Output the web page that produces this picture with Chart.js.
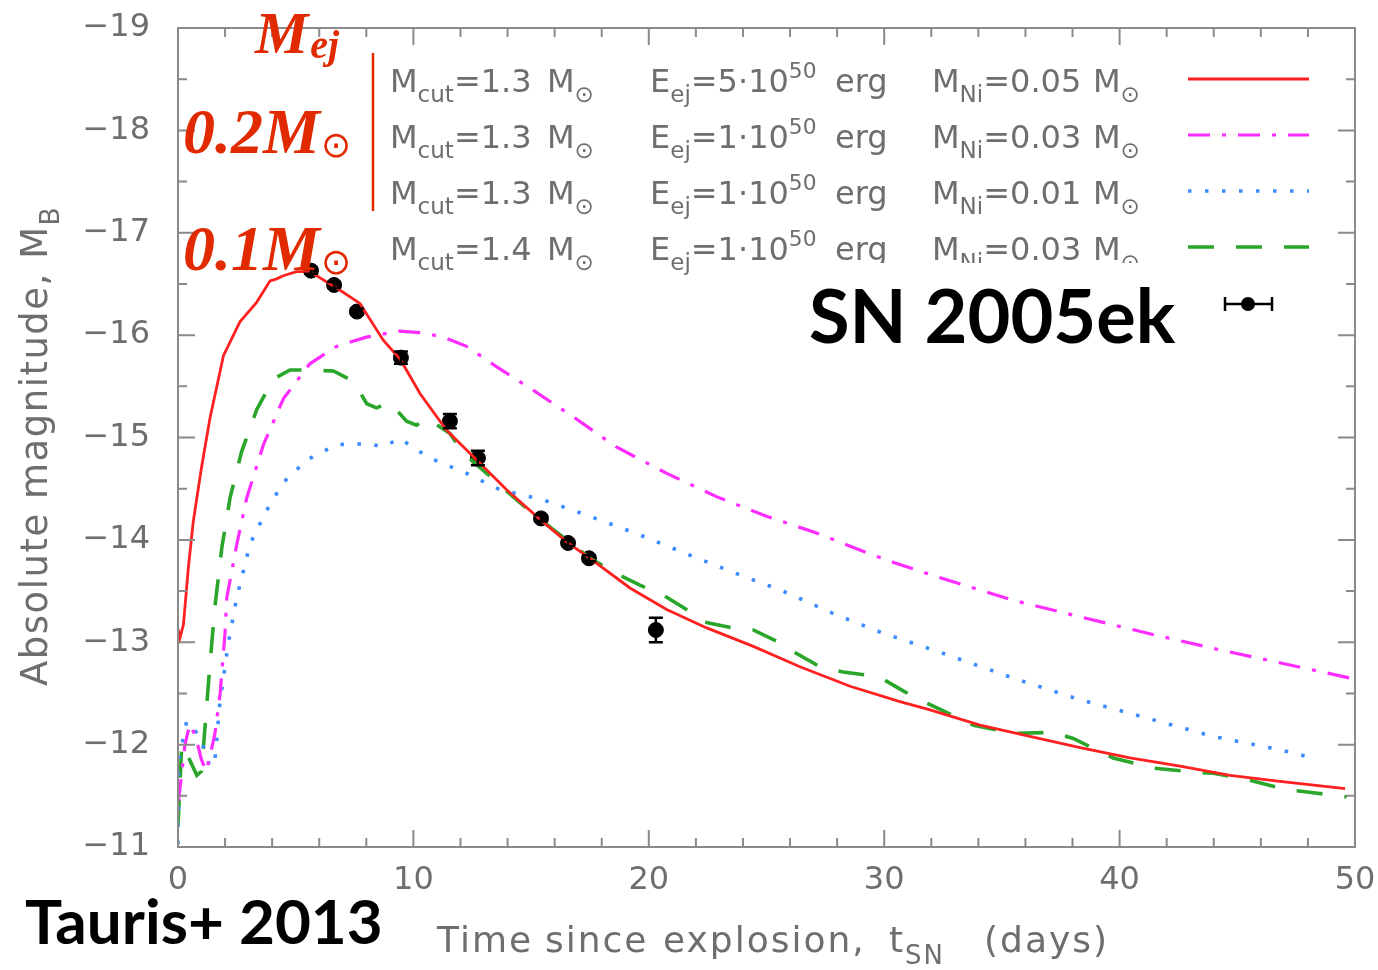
<!DOCTYPE html>
<html>
<head>
<meta charset="utf-8">
<script src="https://cdn.jsdelivr.net/npm/chart.js@4.4.1/dist/chart.umd.min.js"></script>
<style>
  html, body { margin: 0; padding: 0; background: #fff; }
  #c { display: block; }
</style>
</head>
<body>
<canvas id="c" width="1378" height="970" style="width:1378px;height:970px"></canvas>
<script>
// Model light curves: time since explosion (days) and absolute B magnitude
const redT = [0, 0.08, 0.23, 0.44, 0.65, 1.0, 1.36, 1.93, 2.63, 3.34, 3.91, 4.19, 4.47, 5.04, 5.6, 6.74, 7.73, 8.72, 9.45, 10.28, 11.41, 12.69, 13.96, 15.38, 16.51, 17.5, 19.2, 20.76, 22.46, 24.44, 26.42, 28.55, 30.67, 31.95, 34.07, 36.19, 38.32, 40.44, 42.57, 44.69, 46.81, 49.58];
const redM = [-13.13, -13.04, -13.17, -13.73, -14.18, -14.71, -15.19, -15.80, -16.13, -16.32, -16.53, -16.55, -16.58, -16.62, -16.62, -16.46, -16.31, -15.95, -15.76, -15.43, -15.07, -14.78, -14.49, -14.20, -13.98, -13.82, -13.53, -13.32, -13.14, -12.96, -12.76, -12.57, -12.42, -12.34, -12.19, -12.08, -11.97, -11.87, -11.79, -11.70, -11.64, -11.57];

const magT = [0.02, 0.3, 0.5, 0.75, 1.0, 1.2, 1.4, 1.57, 1.79, 2.0, 2.07, 2.5, 2.92, 3.63, 4.48, 5.6, 6.74, 8.0, 9.4, 10.5, 11.4, 12.26, 13.54, 15.1, 16.8, 18.6, 20.76, 22.9, 25.0, 27.1, 29.3, 30.4, 32.65, 35.48, 38.3, 41.15, 43.98, 46.8, 49.8];
const magM = [-11.45, -12.0, -12.2, -12.08, -11.85, -11.74, -11.93, -12.11, -12.5, -13.1, -13.43, -13.96, -14.41, -14.93, -15.38, -15.72, -15.89, -15.98, -16.04, -16.02, -15.97, -15.89, -15.69, -15.46, -15.20, -14.91, -14.65, -14.42, -14.23, -14.07, -13.87, -13.78, -13.61, -13.41, -13.25, -13.09, -12.94, -12.80, -12.65];

const bluT = [0, 0.03, 0.37, 0.93, 1.36, 1.57, 1.78, 2.13, 2.49, 3.06, 3.77, 4.47, 5.47, 6.74, 8.02, 8.72, 9.43, 10.28, 10.7, 12.26, 13.68, 15.52, 17.5, 19.6, 21.75, 23.73, 25.7, 27.84, 29.82, 32.65, 35.48, 38.3, 41.15, 43.98, 46.8, 48.2];
const bluM = [-11.03, -11.85, -12.23, -12.08, -11.78, -11.85, -12.41, -12.98, -13.43, -13.96, -14.29, -14.56, -14.78, -14.93, -14.94, -14.91, -14.99, -14.86, -14.80, -14.65, -14.49, -14.39, -14.23, -14.05, -13.85, -13.67, -13.50, -13.28, -13.10, -12.88, -12.65, -12.44, -12.26, -12.08, -11.95, -11.87];

const grnT = [0, 0.16, 0.5, 0.8, 1.0, 1.14, 1.36, 1.57, 1.86, 2.21, 2.7, 3.34, 4.05, 4.76, 5.47, 6.6, 7.45, 8.02, 8.43, 9.0, 9.71, 10.13, 10.56, 11.55, 12.12, 13.11, 14.39, 15.38, 16.51, 17.5, 18.64, 19.6, 20.62, 21.6, 22.3, 23.58, 24.44, 25.43, 26.28, 27.27, 28.26, 29.26, 29.8, 30.84, 31.95, 33.8, 35.48, 37.18, 38.03, 39.73, 41.43, 43.27, 43.98, 45.4, 47.1, 48.23, 49.65];
const grnM = [-11.21, -12.0, -11.85, -11.70, -11.74, -12.15, -12.79, -13.35, -13.92, -14.41, -14.86, -15.27, -15.57, -15.66, -15.66, -15.65, -15.55, -15.33, -15.29, -15.34, -15.16, -15.12, -15.19, -15.04, -14.85, -14.65, -14.39, -14.20, -14.0, -13.82, -13.67, -13.56, -13.46, -13.32, -13.20, -13.14, -13.12, -13.01, -12.89, -12.76, -12.71, -12.68, -12.66, -12.52, -12.39, -12.19, -12.11, -12.12, -12.06, -11.87, -11.77, -11.73, -11.72, -11.66, -11.56, -11.53, -11.49];

// SN 2005ek photometry
const obsT = [5.65, 6.63, 7.6, 9.47, 11.55, 12.74, 15.42, 16.57, 17.46, 20.3];
const obsM = [-16.63, -16.49, -16.23, -15.78, -15.16, -14.80, -14.21, -13.97, -13.82, -13.12];
const obsErr = [0.03, 0.03, 0.03, 0.06, 0.07, 0.07, 0.03, 0.03, 0.03, 0.12];

// Legend parameters for the four models
const cutMass = ['1.3', '1.3', '1.3', '1.4'];
const ejCoef = ['5', '1', '1', '1'];
const niMass = ['0.05', '0.03', '0.01', '0.03'];

// Axis ranges / ticks
const xRange = [0, 50];
const yRange = [-19, -11];

const RED = '#ff2020', MAG = '#ff2cff', BLU = '#3a8cff', GRN = '#2aa62a';
const ANNO = '#e22a00';
const AXIS = '#8a8a8a', LABEL = '#6e6e6e';

const pts = (t, m) => t.map((v, i) => ({ x: v, y: m[i] }));

const styles = [
  { color: RED, width: 2.8, dash: [] },
  { color: MAG, width: 3.2, dash: [22, 12, 4, 12] },
  { color: BLU, width: 3.6, dash: [3.5, 13.5] },
  { color: GRN, width: 3.6, dash: [26, 22] }
];

function drawRuns(ctx, x, y, runs, base, family, color, style) {
  ctx.fillStyle = color;
  ctx.textAlign = 'left';
  ctx.textBaseline = 'alphabetic';
  for (const r of runs) {
    const txt = r[0], kind = r[1] || 'n';
    let size = base, dy = 0;
    if (kind === 'sub') { size = base * 0.72; dy = base * 0.32; }
    else if (kind === 'sup') { size = base * 0.68; dy = -base * 0.45; }
    ctx.font = `${style || ''} ${size}px ${family}`;
    ctx.fillText(txt, x, y + dy);
    x += ctx.measureText(txt).width;
  }
  return x;
}

const decor = {
  id: 'decor',
  beforeDraw(chart) {
    const ctx = chart.ctx;
    ctx.save();
    ctx.fillStyle = '#fff';
    ctx.fillRect(0, 0, chart.width, chart.height);
    ctx.restore();
  },
  afterDatasetsDraw(chart) {
    // vertical error bars on the photometry
    const ctx = chart.ctx, xs = chart.scales.x, ys = chart.scales.y;
    ctx.save();
    ctx.strokeStyle = '#000';
    ctx.lineWidth = 2.5;
    obsT.forEach((t, i) => {
      const px = xs.getPixelForValue(t);
      const y1 = ys.getPixelForValue(obsM[i] - obsErr[i]);
      const y2 = ys.getPixelForValue(obsM[i] + obsErr[i]);
      ctx.beginPath();
      ctx.moveTo(px, y1); ctx.lineTo(px, y2);
      ctx.moveTo(px - 7, y1); ctx.lineTo(px + 7, y1);
      ctx.moveTo(px - 7, y2); ctx.lineTo(px + 7, y2);
      ctx.stroke();
    });
    ctx.restore();
  },
  afterDraw(chart) {
    const ctx = chart.ctx, xs = chart.scales.x, ys = chart.scales.y;
    const a = chart.chartArea;
    ctx.save();

    // frame and inward ticks on all four sides
    ctx.strokeStyle = AXIS;
    ctx.lineWidth = 2;
    ctx.strokeRect(a.left, a.top, a.right - a.left, a.bottom - a.top);
    ctx.beginPath();
    for (let v = xRange[0]; v <= xRange[1]; v += 2) {
      const px = xs.getPixelForValue(v);
      const len = v % 10 === 0 ? 17 : 9;
      ctx.moveTo(px, a.bottom); ctx.lineTo(px, a.bottom - len);
      ctx.moveTo(px, a.top); ctx.lineTo(px, a.top + len);
    }
    for (let v = yRange[0]; v <= yRange[1] + 1e-9; v += 0.5) {
      const py = ys.getPixelForValue(v);
      const len = Number.isInteger(v) ? 17 : 9;
      ctx.moveTo(a.left, py); ctx.lineTo(a.left + len, py);
      ctx.moveTo(a.right, py); ctx.lineTo(a.right - len, py);
    }
    ctx.stroke();

    // axis titles
    const fam = '"DejaVu Sans"';
    ctx.letterSpacing = '2px';
    ctx.fillStyle = LABEL;
    ctx.font = `36px ${fam}`;
    ctx.fillText('Time', 437, 952);
    ctx.fillText('since', 545, 952);
    ctx.fillText('explosion,', 663, 952);
    drawRuns(ctx, 889, 952, [['t'], ['SN', 'sub']], 36, fam, LABEL);
    ctx.font = `36px ${fam}`;
    ctx.fillText('(days)', 984, 952);

    ctx.save();
    ctx.translate(47, 686);
    ctx.rotate(-Math.PI / 2);
    ctx.letterSpacing = '1.5px';
    drawRuns(ctx, 0, 0, [['Absolute magnitude, M'], ['B', 'sub']], 37, fam, LABEL);
    ctx.restore();
    ctx.letterSpacing = '0px';

    // legend text
    const lf = 32;
    for (let i = 0; i < 4; i++) {
      const B = 92 + 56 * i;
      drawRuns(ctx, 390, B, [['M'], ['cut', 'sub'], ['=' + cutMass[i]]], lf, fam, LABEL);
      drawRuns(ctx, 547, B, [['M'], ['\u2299', 'sub']], lf, fam, LABEL);
      drawRuns(ctx, 650, B, [['E'], ['ej', 'sub'], ['=' + ejCoef[i] + '\u00B710'], ['50', 'sup']], lf, fam, LABEL);
      drawRuns(ctx, 835, B, [['erg']], lf, fam, LABEL);
      drawRuns(ctx, 932, B, [['M'], ['Ni', 'sub'], ['=' + niMass[i]]], lf, fam, LABEL);
      drawRuns(ctx, 1093, B, [['M'], ['\u2299', 'sub']], lf, fam, LABEL);
      // legend line sample
      const st = styles[i];
      ctx.save();
      ctx.strokeStyle = st.color;
      ctx.lineWidth = st.width;
      ctx.setLineDash(st.dash);
      ctx.beginPath();
      ctx.moveTo(1188, B - 13); ctx.lineTo(1309, B - 13);
      ctx.stroke();
      ctx.restore();
    }

    // SN 2005ek label with its own white panel
    ctx.fillStyle = '#fff';
    ctx.fillRect(800, 263, 385, 90);
    ctx.fillStyle = '#000';
    ctx.font = 'bold 74px Lato';
    ctx.fillText('SN 2005ek', 809, 343);
    // photometry legend symbol
    ctx.strokeStyle = '#000';
    ctx.lineWidth = 2.5;
    ctx.beginPath();
    ctx.moveTo(1225, 304); ctx.lineTo(1272, 304);
    ctx.moveTo(1225, 297); ctx.lineTo(1225, 311);
    ctx.moveTo(1272, 297); ctx.lineTo(1272, 311);
    ctx.stroke();
    ctx.beginPath();
    ctx.arc(1248, 304, 7, 0, Math.PI * 2);
    ctx.fill();

    // reference label
    ctx.font = 'bold 62px Lato';
    ctx.fillText('Tauris+ 2013', 25, 944);

    // ejecta-mass annotations
    ctx.fillStyle = ANNO;
    const serif = '"Liberation Serif"';
    let e = drawRuns(ctx, 255, 53, [['M']], 60, serif, ANNO, 'italic bold');
    ctx.font = `italic bold 40px ${serif}`;
    ctx.fillText('ej', e + 2, 58);
    e = drawRuns(ctx, 183, 153, [['0.2M']], 64, serif, ANNO, 'italic bold');
    drawRuns(ctx, e + 1, 157, [['\u2299']], 36, fam, ANNO);
    e = drawRuns(ctx, 183, 270, [['0.1M']], 64, serif, ANNO, 'italic bold');
    drawRuns(ctx, e + 1, 274, [['\u2299']], 36, fam, ANNO);
    ctx.strokeStyle = ANNO;
    ctx.lineWidth = 2.5;
    ctx.beginPath();
    ctx.moveTo(373, 53); ctx.lineTo(373, 211);
    ctx.stroke();

    ctx.restore();
  }
};

const lineSet = (t, m, st) => ({
  type: 'line',
  data: pts(t, m),
  borderColor: st.color,
  borderWidth: st.width,
  borderDash: st.dash,
  pointRadius: 0,
  fill: false,
  tension: 0
});

new Chart(document.getElementById('c'), {
  type: 'scatter',
  data: {
    datasets: [
      lineSet(redT, redM, styles[0]),
      lineSet(magT, magM, styles[1]),
      lineSet(bluT, bluM, styles[2]),
      lineSet(grnT, grnM, styles[3]),
      {
        type: 'scatter',
        data: pts(obsT, obsM),
        pointRadius: 7.5,
        pointBackgroundColor: '#000',
        pointBorderColor: '#000',
        showLine: false
      }
    ]
  },
  options: {
    responsive: false,
    animation: false,
    devicePixelRatio: 1,
    layout: { padding: { left: 0, right: 23, top: 28, bottom: 0 } },
    plugins: { legend: { display: false }, tooltip: { enabled: false } },
    scales: {
      x: {
        type: 'linear', min: xRange[0], max: xRange[1],
        grid: { display: false, drawTicks: false },
        border: { display: false },
        ticks: { stepSize: 10, color: LABEL, font: { family: 'DejaVu Sans', size: 32 }, padding: 14 },
        afterFit(s) { s.height = 123; s.paddingLeft = 0; s.paddingRight = 0; }
      },
      y: {
        type: 'linear', min: yRange[0], max: yRange[1], reverse: true,
        grid: { display: false, drawTicks: false },
        border: { display: false },
        ticks: {
          stepSize: 1, color: LABEL, font: { family: 'DejaVu Sans', size: 32 }, padding: 28,
          callback: v => (v < 0 ? '\u2212' + Math.abs(v) : String(v))
        },
        afterFit(s) { s.width = 178; s.paddingTop = 0; s.paddingBottom = 0; }
      }
    }
  },
  plugins: [decor]
});
</script>
</body>
</html>
